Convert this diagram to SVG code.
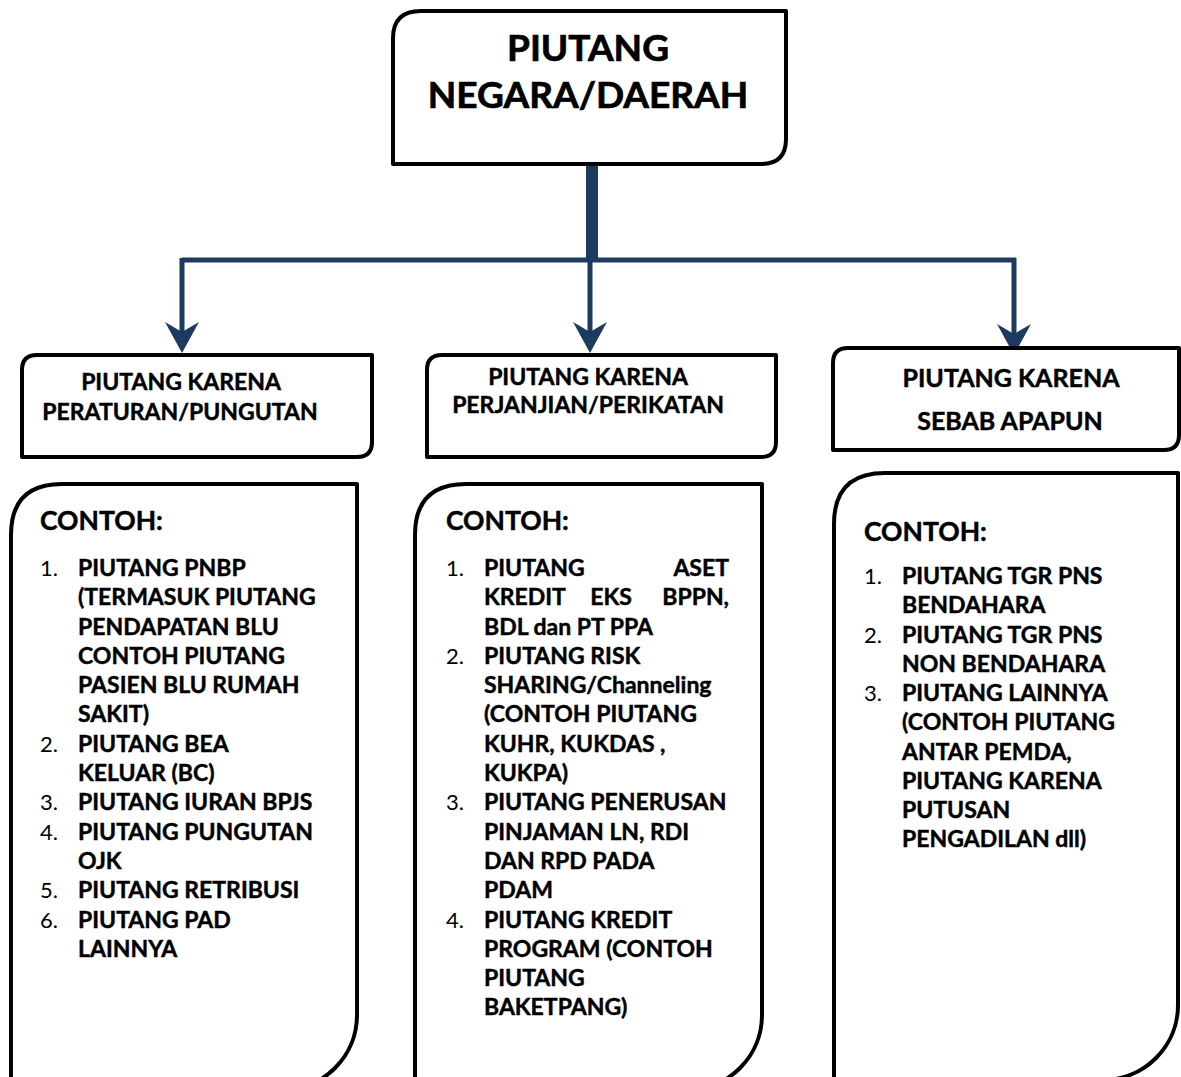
<svg xmlns="http://www.w3.org/2000/svg" width="1181" height="1077" viewBox="0 0 1181 1077">
<style>
.box{fill:#fff;stroke:#000;stroke-width:4;stroke-linejoin:round}
.t{font-family:Lato,"Open Sans","Liberation Sans",sans-serif;font-weight:bold;fill:#000;stroke:#000;stroke-width:0.45}
.title{font-size:37px;text-anchor:middle;stroke-width:0.7}
.h{font-size:23px;text-anchor:middle}
.h3{font-size:25px;text-anchor:middle}
.c{font-size:26.5px}
.li{font-size:23px}
.n{font-family:Lato,"Open Sans","Liberation Sans",sans-serif;font-weight:normal;font-size:22px;fill:#000}
.con{stroke:#1D3A5F;fill:none}
.ah{fill:#1D3A5F}
</style>
<defs>
<path id="arrow" d="M0 0 L-17 -31 L0 -21 L17 -31 Z"/>
</defs>
<rect width="1181" height="1077" fill="#fff"/>
<g id="connectors">
<line class="con" x1="592" y1="164" x2="592" y2="260" stroke-width="12"/>
<line class="con" x1="182" y1="260" x2="1016" y2="260" stroke-width="5"/>
<line class="con" x1="182" y1="258" x2="182" y2="335" stroke-width="5"/>
<line class="con" x1="590" y1="258" x2="590" y2="335" stroke-width="5"/>
<line class="con" x1="1014" y1="258" x2="1014" y2="337" stroke-width="5"/>
<use href="#arrow" class="ah" x="182" y="353"/>
<use href="#arrow" class="ah" x="590" y="353"/>
<use href="#arrow" class="ah" x="1014" y="355"/>
</g>
<g id="root">
<path class="box" d="M393 164 L393 38 Q393 11 421 11 L786 11 L786 139 Q786 164 761 164 Z"/>
<text class="t title" x="588" y="61">PIUTANG</text>
<text class="t title" x="588" y="108">NEGARA/DAERAH</text>
</g>
<g id="node-peraturan">
<path class="box" d="M22 457 L22 370 Q22 355 37 355 L372 355 L372 442 Q372 457 357 457 Z"/>
<text class="t h" x="181" y="390">PIUTANG KARENA</text>
<text class="t h" x="180" y="420">PERATURAN/PUNGUTAN</text>
</g>
<g id="node-perjanjian">
<path class="box" d="M427 457 L427 370 Q427 355 442 355 L776 355 L776 442 Q776 457 761 457 Z"/>
<text class="t h" x="588" y="385">PIUTANG KARENA</text>
<text class="t h" x="588" y="413">PERJANJIAN/PERIKATAN</text>
</g>
<g id="node-sebab">
<path class="box" d="M833 450 L833 363 Q833 348 848 348 L1179 348 L1179 435 Q1179 450 1164 450 Z"/>
<text class="t h3" x="1011" y="387">PIUTANG KARENA</text>
<text class="t h3" x="1010" y="430">SEBAB APAPUN</text>
</g>
<g id="contoh-peraturan">
<path class="box" d="M11 1100 L11 535 Q11 484 62 484 L357 484 L357 1015 A75 75 0 0 1 282 1090 Z"/>
<text class="t c" x="40" y="530">CONTOH:</text>
<g class="n"><text x="40" y="576">1.</text><text x="40" y="752">2.</text><text x="40" y="810">3.</text><text x="40" y="840">4.</text><text x="40" y="898">5.</text><text x="40" y="928">6.</text></g>
<g class="t li">
<text x="78" y="576">PIUTANG PNBP</text>
<text x="78" y="605">(TERMASUK PIUTANG</text>
<text x="78" y="635">PENDAPATAN BLU</text>
<text x="78" y="664">CONTOH PIUTANG</text>
<text x="78" y="693">PASIEN BLU RUMAH</text>
<text x="78" y="722">SAKIT)</text>
<text x="78" y="752">PIUTANG BEA</text>
<text x="78" y="781">KELUAR (BC)</text>
<text x="78" y="810">PIUTANG IURAN BPJS</text>
<text x="78" y="840">PIUTANG PUNGUTAN</text>
<text x="78" y="869">OJK</text>
<text x="78" y="898">PIUTANG RETRIBUSI</text>
<text x="78" y="928">PIUTANG PAD</text>
<text x="78" y="957">LAINNYA</text>
</g>
</g>
<g id="contoh-perjanjian">
<path class="box" d="M415 1100 L415 535 Q415 484 466 484 L762 484 L762 1015 A75 75 0 0 1 687 1090 Z"/>
<text class="t c" x="446" y="530">CONTOH:</text>
<g class="n"><text x="446" y="576">1.</text><text x="446" y="664">2.</text><text x="446" y="810">3.</text><text x="446" y="928">4.</text></g>
<g class="t li">
<text x="484" y="576">PIUTANG</text>
<text x="729" y="576" text-anchor="end">ASET</text>
<text x="484" y="605">KREDIT</text>
<text x="611" y="605" text-anchor="middle">EKS</text>
<text x="729" y="605" text-anchor="end">BPPN,</text>
<text x="484" y="635">BDL dan PT PPA</text>
<text x="484" y="664">PIUTANG RISK</text>
<text x="484" y="693">SHARING/Channeling</text>
<text x="484" y="722">(CONTOH PIUTANG</text>
<text x="484" y="752">KUHR, KUKDAS ,</text>
<text x="484" y="781">KUKPA)</text>
<text x="484" y="810">PIUTANG PENERUSAN</text>
<text x="484" y="840">PINJAMAN LN, RDI</text>
<text x="484" y="869">DAN RPD PADA</text>
<text x="484" y="898">PDAM</text>
<text x="484" y="928">PIUTANG KREDIT</text>
<text x="484" y="957">PROGRAM (CONTOH</text>
<text x="484" y="986">PIUTANG</text>
<text x="484" y="1015">BAKETPANG)</text>
</g>
</g>
<g id="contoh-sebab">
<path class="box" d="M834 1100 L834 524 Q834 473 885 473 L1178 473 L1178 1005 A75 75 0 0 1 1103 1080 Z"/>
<text class="t c" x="864" y="541">CONTOH:</text>
<g class="n"><text x="864" y="584">1.</text><text x="864" y="643">2.</text><text x="864" y="701">3.</text></g>
<g class="t li">
<text x="902" y="584">PIUTANG TGR PNS</text>
<text x="902" y="613">BENDAHARA</text>
<text x="902" y="643">PIUTANG TGR PNS</text>
<text x="902" y="672">NON BENDAHARA</text>
<text x="902" y="701">PIUTANG LAINNYA</text>
<text x="902" y="730">(CONTOH PIUTANG</text>
<text x="902" y="760">ANTAR PEMDA,</text>
<text x="902" y="789">PIUTANG KARENA</text>
<text x="902" y="818">PUTUSAN</text>
<text x="902" y="847">PENGADILAN dll)</text>
</g>
</g>
</svg>
